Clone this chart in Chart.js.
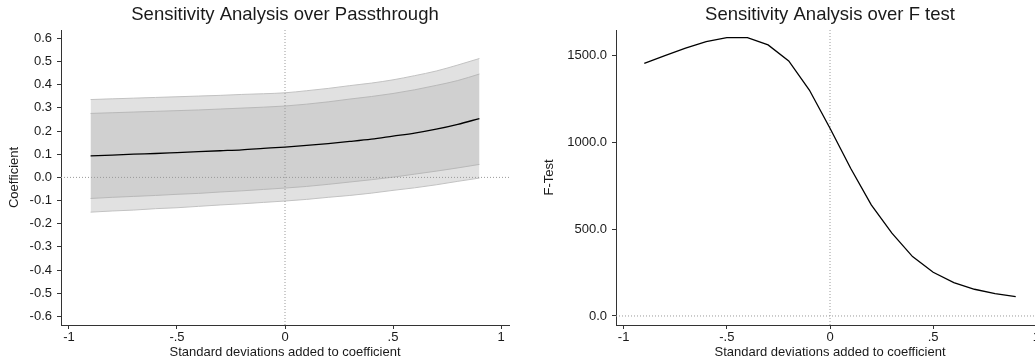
<!DOCTYPE html>
<html>
<head>
<meta charset="utf-8">
<script src="https://cdn.jsdelivr.net/npm/chart.js@4"></script>
<style>
  html, body { margin: 0; padding: 0; background: #fff; }
  body { width: 1035px; height: 364px; overflow: hidden; position: relative; }
  .panel { position: absolute; top: 0; height: 364px; }
  #leftBox { left: 0; width: 517px; }
  #rightBox { left: 517px; width: 535px; }
  canvas { display: block; }
</style>
</head>
<body>
<div class="panel" id="leftBox"><canvas id="passChart" width="517" height="364"></canvas></div>
<div class="panel" id="rightBox"><canvas id="fChart" width="535" height="364"></canvas></div>
<script>
// standard deviations added to coefficient
const sdSteps = [-0.9, -0.8, -0.7, -0.6, -0.5, -0.4, -0.3, -0.2, -0.1, 0, 0.1, 0.2, 0.3, 0.4, 0.5, 0.6, 0.7, 0.8, 0.9];

// passthrough coefficient and its two bands
const coef    = [0.093, 0.096, 0.100, 0.103, 0.107, 0.111, 0.115, 0.119, 0.125, 0.131, 0.138, 0.146, 0.155, 0.165, 0.178, 0.191, 0.208, 0.229, 0.254];
const innerHi = [0.276, 0.279, 0.282, 0.285, 0.288, 0.291, 0.295, 0.299, 0.303, 0.308, 0.316, 0.326, 0.338, 0.349, 0.362, 0.378, 0.397, 0.418, 0.446];
const innerLo = [-0.091, -0.086, -0.082, -0.078, -0.073, -0.069, -0.063, -0.058, -0.052, -0.046, -0.039, -0.030, -0.020, -0.010, 0.001, 0.014, 0.027, 0.041, 0.056];
const outerHi = [0.336, 0.339, 0.342, 0.345, 0.348, 0.351, 0.354, 0.358, 0.361, 0.365, 0.374, 0.384, 0.396, 0.407, 0.421, 0.439, 0.459, 0.485, 0.513];
const outerLo = [-0.150, -0.145, -0.141, -0.135, -0.131, -0.125, -0.119, -0.114, -0.108, -0.102, -0.095, -0.086, -0.078, -0.068, -0.056, -0.045, -0.032, -0.017, -0.003];

// F test
const fTest = [1456, 1500, 1543, 1581, 1604, 1604, 1562, 1470, 1302, 1082, 851, 640, 477, 342, 252, 192, 154, 129, 111];

// ticks
const xTicks = [-1, -0.5, 0, 0.5, 1];
const xTickLabels = ['-1', '-.5', '0', '.5', '1'];
const coefTicks = [-0.6, -0.5, -0.4, -0.3, -0.2, -0.1, 0, 0.1, 0.2, 0.3, 0.4, 0.5, 0.6];
const fTicks = [0, 500, 1000, 1500];

const FONT = "'Liberation Sans', Arial, sans-serif";
const TXT = '#1a1a1a';
const AXIS = '#333';
const REF = '#9a9a9a';

const pts = (ys) => sdSteps.map((x, i) => ({ x: x, y: ys[i] }));

function refLines(yMin, yMax) {
  // dotted reference lines at x = 0 and y = 0
  return [
    { data: [{ x: 0, y: yMin }, { x: 0, y: yMax }], borderColor: REF, borderWidth: 1, borderDash: [1, 2], pointRadius: 0, fill: false, order: 1 },
    { data: [{ x: -1.037, y: 0 }, { x: 1.037, y: 0 }], borderColor: REF, borderWidth: 1, borderDash: [1, 2], pointRadius: 0, fill: false, order: 1 }
  ];
}

function xScale() {
  return {
    type: 'linear',
    min: -1.037,
    max: 1.037,
    afterBuildTicks: (ax) => { ax.ticks = xTicks.map(v => ({ value: v })); },
    afterFit: (ax) => { ax.height = 39; },
    ticks: {
      autoSkip: false,
      maxRotation: 0,
      padding: 1,
      color: TXT,
      font: { family: FONT, size: 13 },
      callback: (v) => xTickLabels[xTicks.indexOf(v)]
    },
    grid: { display: true, drawOnChartArea: false, drawTicks: true, tickLength: 4, color: AXIS, tickColor: AXIS },
    border: { display: true, color: AXIS, width: 1 },
    title: {
      display: true,
      text: 'Standard deviations added to coefficient',
      color: TXT,
      font: { family: FONT, size: 13 },
      padding: { top: 0, bottom: 3.5 }
    }
  };
}

function yScale(min, max, tickVals, fmt, width, titleText, titlePad) {
  return {
    type: 'linear',
    min: min,
    max: max,
    afterBuildTicks: (ax) => { ax.ticks = tickVals.map(v => ({ value: v })); },
    afterFit: (ax) => { ax.width = width; },
    ticks: {
      autoSkip: false,
      padding: 5,
      color: TXT,
      font: { family: FONT, size: 13 },
      callback: fmt
    },
    grid: { display: true, drawOnChartArea: false, drawTicks: true, tickLength: 4, color: AXIS, tickColor: AXIS },
    border: { display: true, color: AXIS, width: 1 },
    title: {
      display: true,
      text: titleText,
      color: TXT,
      font: { family: FONT, size: 13 },
      padding: { top: titlePad, bottom: 0 }
    }
  };
}

function titleOpts(text) {
  return {
    display: true,
    text: text,
    fullSize: false,
    color: TXT,
    font: { family: FONT, size: 18.5, weight: 'normal', lineHeight: 1.19 },
    padding: { top: 4, bottom: 4 }
  };
}

const commonOpts = {
  responsive: false,
  animation: false,
  events: [],
  plugins: { legend: { display: false }, tooltip: { enabled: false } }
};

// left panel: passthrough with bands
new Chart(document.getElementById('passChart'), {
  type: 'line',
  data: {
    datasets: [
      { data: pts(outerHi), borderColor: '#c2c2c2', borderWidth: 1, backgroundColor: '#e1e1e1', fill: '+1', pointRadius: 0, cubicInterpolationMode: 'monotone', order: 5 },
      { data: pts(outerLo), borderColor: '#c2c2c2', borderWidth: 1, fill: false, pointRadius: 0, cubicInterpolationMode: 'monotone', order: 4 },
      { data: pts(innerHi), borderColor: '#b9b9b9', borderWidth: 1, backgroundColor: '#d0d0d0', fill: '+1', pointRadius: 0, cubicInterpolationMode: 'monotone', order: 3 },
      { data: pts(innerLo), borderColor: '#b9b9b9', borderWidth: 1, fill: false, pointRadius: 0, cubicInterpolationMode: 'monotone', order: 2 },
      ...refLines(-0.637, 0.636),
      { data: pts(coef), borderColor: '#000', borderWidth: 1.3, fill: false, pointRadius: 0, cubicInterpolationMode: 'monotone', order: 0 }
    ]
  },
  options: {
    ...commonOpts,
    layout: { padding: { left: 0, right: 8, top: 0, bottom: 0 } },
    plugins: { ...commonOpts.plugins, title: titleOpts('Sensitivity Analysis over Passthrough') },
    scales: {
      x: xScale(),
      y: yScale(-0.637, 0.636, coefTicks, (v) => v.toFixed(1), 61, 'Coefficient', 7)
    }
  }
});

// right panel: F test
new Chart(document.getElementById('fChart'), {
  type: 'line',
  data: {
    datasets: [
      ...refLines(-52, 1648),
      { data: pts(fTest), borderColor: '#000', borderWidth: 1.3, fill: false, pointRadius: 0, order: 0 }
    ]
  },
  options: {
    ...commonOpts,
    layout: { padding: { left: 0, right: 8, top: 0, bottom: 0 } },
    plugins: { ...commonOpts.plugins, title: titleOpts('Sensitivity Analysis over F test') },
    scales: {
      x: xScale(),
      y: yScale(-52, 1648, fTicks, (v) => v.toFixed(1), 99, 'F-Test', 25)
    }
  }
});
</script>
</body>
</html>
